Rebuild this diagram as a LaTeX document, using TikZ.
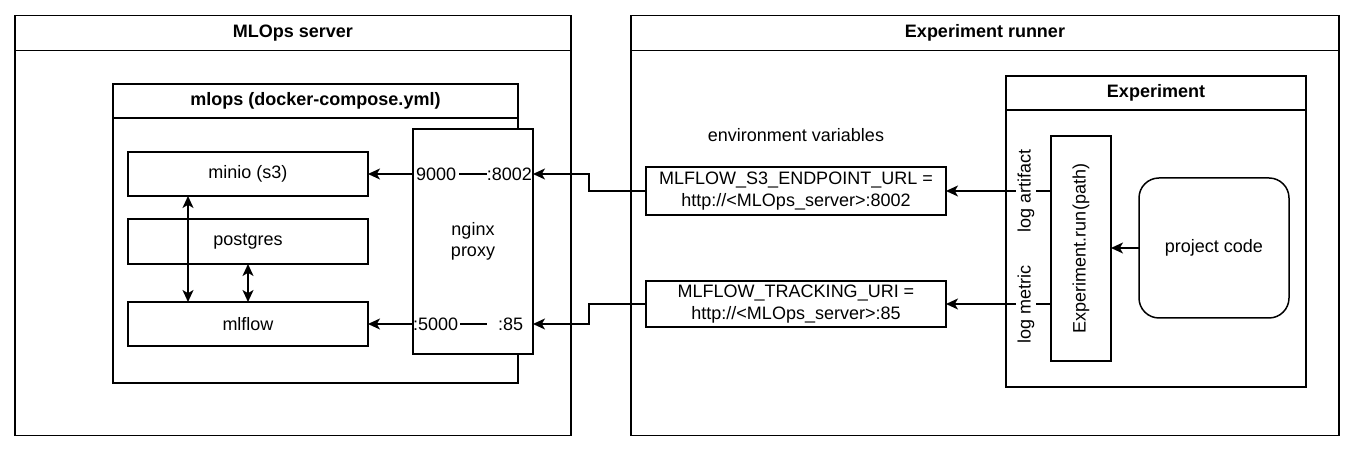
\documentclass[tikz,border=0pt]{standalone}
\usepackage{fontspec}
\setmainfont{Liberation Sans}
\usetikzlibrary{arrows.meta}
\begin{document}
\begin{tikzpicture}[x=0.5pt,y=-0.5pt,line width=0.75pt,
  font=\fontsize{9}{10.8}\selectfont,
  sz/.style 2 args={minimum width=#1*0.5pt,minimum height=#2*0.5pt},
  box/.style={draw,fill=white,inner sep=0pt,outer sep=0pt,align=center},
  hdr/.style={box,font=\bfseries\fontsize{9}{10.8}\selectfont},
  tip/.style={},
  arr/.style={-{Stealth[length=6pt,width=5.5pt,inset=1.6pt]}},
  darr/.style={{Stealth[length=6pt,width=5.5pt,inset=1.6pt]}-{Stealth[length=6pt,width=5.5pt,inset=1.6pt]}},
  lbl/.style={fill=white,inner sep=1pt,rotate=90},
  port/.style={inner sep=0pt,outer sep=0pt}]
\useasboundingbox (0,0) rectangle (1356,453);

% outer containers
\node[box,sz={556}{420}] (srv) at (293,225.5) {};
\node[hdr,sz={556}{35},anchor=north] (srvh) at (srv.north) {MLOps server};
\node[box,sz={708}{420}] (run) at (985,225.5) {};
\node[hdr,sz={708}{35},anchor=north] (runh) at (run.north) {Experiment runner};

% mlops compose
\node[box,sz={405}{299}] (mlops) at (315.5,233.5) {};
\node[hdr,sz={405}{34},anchor=north] (mlopsh) at (mlops.north) {mlops (docker-compose.yml)};

\node[box,sz={240}{44}] (minio) at (248,174) {minio (s3)};
\node[box,sz={240}{45}] (postgres) at (248,241.5) {postgres};
\node[box,sz={240}{44}] (mlflow) at (248,324) {mlflow};
\node[box,sz={120}{225}] (nginx) at (473,241.5) {nginx\\proxy};

\node[port,anchor=west] (p9000) at (416,174) {9000};
\node[port,anchor=east] (p8002) at (532,174) {:8002};
\node[port,anchor=west] (p5000) at (413,324) {:5000};
\node[port,anchor=west] (p85) at (498,324) {:85};
\draw ([xshift=1.5pt]p9000.east) -- (p8002.west);
\draw ([xshift=1pt]p5000.east) -- ([xshift=-5.5pt]p85.west);

\draw[arr] (nginx.west |- minio.east) -- (minio.east);
\draw[arr] (nginx.west |- mlflow.east) -- (mlflow.east);
\draw[darr] ([xshift=-30pt]minio.south) -- ([xshift=-30pt]mlflow.north);
\draw[darr] (postgres.south) -- (mlflow.north);

% environment variables
\node (envlbl) at (796,135) {environment variables};
\node[box,sz={300}{48}] (s3env) at (796,191) {MLFLOW\_S3\_ENDPOINT\_URL =\\http://<MLOps\_server>:8002};
\node[box,sz={300}{46}] (trkenv) at (796,304) {MLFLOW\_TRACKING\_URI =\\http://<MLOps\_server>:85};

\draw[arr] (s3env.west) -- ++(-57,0) |- (nginx.east |- p8002.east);
\draw[arr] (trkenv.west) -- ++(-57,0) |- (nginx.east |- mlflow.east);

% experiment
\node[box,sz={300}{311}] (exp) at (1156,231.5) {};
\node[hdr,sz={300}{34},anchor=north] (exph) at (exp.north) {Experiment};
\node[box,sz={60}{225}] (exprun) at (1081,248.5) {\rotatebox{90}{Experiment.run(path)}};
\node[box,sz={150}{140},rounded corners=10pt] (proj) at (1214,248) {project code};

\draw[arr] (proj.west) -- (proj.west -| exprun.east);
\draw[arr] (exprun.west |- s3env.east) -- node[lbl,pos=0.238] {log artifact} (s3env.east);
\draw[arr] (exprun.west |- trkenv.east) -- node[lbl,pos=0.238] {log metric} (trkenv.east);
\end{tikzpicture}
\end{document}
